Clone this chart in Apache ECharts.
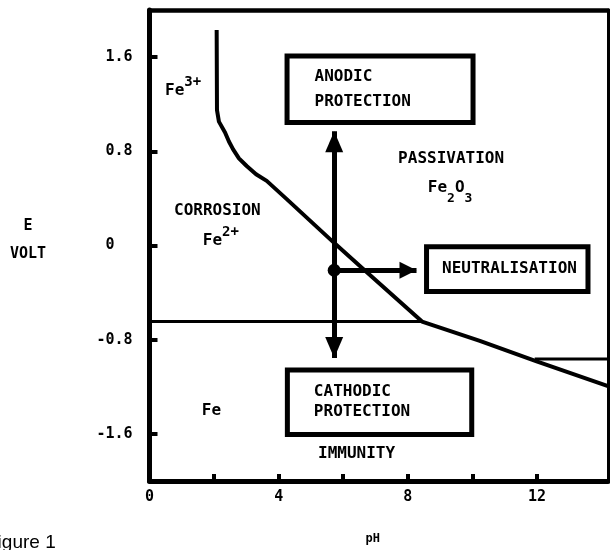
<!DOCTYPE html>
<html><head><meta charset="utf-8">
<script src="https://cdn.jsdelivr.net/npm/echarts@6/dist/echarts.min.js"></script>
<style>html,body{margin:0;padding:0;background:#fff}#c{width:610px;height:550px}</style>
</head><body><div id="c"></div>
<script>
// ---- data ----
const xTicks = [2, 4, 6, 8, 10, 12];
const xTickLabels = [0, 4, 8, 12];
const yTickLabels = [-1.6, -0.8, 0, 0.8, 1.6];

// Fe2O3 / Fe ions boundary
const curvePH = [2.08, 2.09, 2.15, 2.34, 2.46, 2.59, 2.77, 3.01, 3.30, 3.63, 4.25, 5.75, 6.61, 8.44, 10.23, 11.99, 14.2];
const curveE  = [1.83, 1.15, 1.052, 0.96, 0.883, 0.816, 0.74, 0.675, 0.605, 0.549, 0.394, 0.014, -0.197, -0.646, -0.81, -0.984, -1.195];
// Fe / Fe2+ line
const feLinePH = [0, 8.44];
const feLineE  = [-0.646, -0.646];
// short line at high pH
const hiLinePH = [11.93, 14.2];
const hiLineE  = [-0.964, -0.964];

// boxes
const boxNames = ['ANODIC\nPROTECTION', 'NEUTRALISATION', 'CATHODIC\nPROTECTION'];
const boxPH = [[4.26, 10.02], [8.58, 13.58], [4.27, 9.98]];
const boxE  = [[1.61, 1.044], [-0.011, -0.39], [-1.057, -1.606]];

// arrows
const arrowPH = 5.72;
const arrowTopE = 0.97;
const arrowBottomE = -0.955;
const neutralE = -0.21;
const neutralTipPH = 8.27;

// region labels
const regionTexts = ['{b|Fe}{sup|3+}', 'CORROSION', '{b|Fe}{sup|2+}', 'PASSIVATION', '{c|Fe}{sub|2}{c|O}{sub|3}', 'Fe', 'IMMUNITY'];
const regionPH = [0.48, 0.76, 1.65, 7.70, 8.62, 1.62, 5.22];
const regionE  = [1.348, 0.293, 0.076, 0.738, 0.443, -1.406, -1.772];

// ---- chart ----
const FONT = 'DejaVu Sans Mono';
const chart = echarts.init(document.getElementById('c'));
const zip = (a, b) => a.map((v, i) => [v, b[i]]);

const boxLabelDist = [30, 18, 29];
const boxLineHeight = [25, 20, 20];
const markAreaData = boxNames.map((n, i) => [
  { coord: [boxPH[i][0], boxE[i][0]], name: n,
    label: { distance: boxLabelDist[i], lineHeight: boxLineHeight[i] } },
  { coord: [boxPH[i][1], boxE[i][1]] }
]);

const richStyles = {
  b:   { fontFamily: FONT, fontWeight: 'bold', fontSize: 16, color: '#000', padding: [8, 0, 0, 0] },
  sup: { fontFamily: FONT, fontWeight: 'bold', fontSize: 14, color: '#000', padding: [0, 0, 8, 0] },
  c:   { fontFamily: FONT, fontWeight: 'bold', fontSize: 16, color: '#000', padding: [0, 0, 10, 0] },
  sub: { fontFamily: FONT, fontWeight: 'bold', fontSize: 13, color: '#000', padding: [10, 0, 0, 0] }
};

const option = {
  backgroundColor: '#fff',
  animation: false,
  grid: { left: 149.5, right: 2, top: 10, bottom: 65.5 },
  xAxis: [{
    type: 'value', min: 0, max: 14.2,
    name: 'pH', nameLocation: 'middle', nameGap: 52,
    nameTextStyle: { fontFamily: FONT, fontWeight: 'bold', fontSize: 12, color: '#000', padding: [0, 12, 0, 0] },
    axisLine: { onZero: false, lineStyle: { color: '#000', width: 5 } },
    axisTick: { inside: true, length: 7, customValues: xTicks, lineStyle: { color: '#000', width: 4 } },
    axisLabel: { customValues: xTickLabels, margin: 9, fontFamily: FONT, fontWeight: 'bold', fontSize: 15, color: '#000' },
    splitLine: { show: false }
  }, {
    type: 'value', min: 0, max: 1, position: 'top',
    axisLine: { show: true, onZero: false, lineStyle: { color: '#000', width: 4.5 } },
    axisTick: { show: false }, axisLabel: { show: false }, splitLine: { show: false }
  }],
  yAxis: [{
    type: 'value', min: -2, max: 2,
    name: '{n|E}\n{n|VOLT}\n{s| }', nameLocation: 'middle', nameRotate: 0, nameGap: 121.5,
    nameTextStyle: { align: 'center', verticalAlign: 'middle',
      rich: {
        n: { fontFamily: FONT, fontWeight: 'bold', fontSize: 15, color: '#000', lineHeight: 28, align: 'center' },
        s: { fontSize: 10, lineHeight: 10 }
      } },
    axisLine: { show: true, onZero: false, lineStyle: { color: '#000', width: 5 } },
    axisTick: { show: true, inside: true, length: 8, customValues: yTickLabels, lineStyle: { color: '#000', width: 4 } },
    axisLabel: { customValues: yTickLabels, margin: 17, fontFamily: FONT, fontWeight: 'bold', fontSize: 15, color: '#000',
      formatter: v => (Math.abs(v) < 1e-9 ? '0\u00a0\u00a0' : String(v)) },
    splitLine: { show: false }
  }, {
    type: 'value', min: 0, max: 1, position: 'right',
    axisLine: { show: true, onZero: false, lineStyle: { color: '#000', width: 3 } },
    axisTick: { show: false }, axisLabel: { show: false }, splitLine: { show: false }
  }],
  graphic: [{
    type: 'text', x: -14, y: 543,
    style: { text: 'Figure 1', fontFamily: 'Liberation Sans', fontSize: 19, fill: '#000', verticalAlign: 'middle' }
  }],
  series: [
    { type: 'line', name: 'boundary', data: zip(curvePH, curveE), showSymbol: false, symbol: 'none',
      lineStyle: { color: '#000', width: 4 }, z: 3, silent: true },
    { type: 'line', name: 'Fe line', data: zip(feLinePH, feLineE), symbol: 'none',
      lineStyle: { color: '#000', width: 3 }, z: 3, silent: true },
    { type: 'line', name: 'high pH line', data: zip(hiLinePH, hiLineE), symbol: 'none',
      lineStyle: { color: '#000', width: 3 }, z: 3, silent: true },
    { type: 'line', name: 'boxes', data: [], silent: true,
      markArea: {
        silent: true,
        itemStyle: { color: 'rgba(0,0,0,0)', borderColor: '#000', borderWidth: 5 },
        label: { show: true, position: 'insideLeft', fontFamily: FONT, fontWeight: 'bold', fontSize: 16, color: '#000' },
        data: markAreaData
      } },
    { type: 'line', name: 'arrows', data: [], silent: true,
      markLine: {
        silent: true, animation: false,
        label: { show: false },
        lineStyle: { color: '#000', width: 5, type: 'solid' },
        data: [
          [ { coord: [arrowPH, arrowTopE], symbol: 'triangle', symbolSize: [18, 21], symbolOffset: [0, '50%'] },
            { coord: [arrowPH, arrowBottomE], symbol: 'triangle', symbolSize: [18, 21], symbolOffset: [0, '50%'] } ],
          [ { coord: [arrowPH, neutralE], symbol: 'circle', symbolSize: 13 },
            { coord: [neutralTipPH, neutralE], symbol: 'triangle', symbolSize: [17, 17], symbolOffset: [0, '50%'] } ]
        ]
      } },
    { type: 'scatter', name: 'labels', symbolSize: 0, silent: true, z: 5,
      itemStyle: { opacity: 1 },
      data: regionTexts.map((t, i) => ({ value: [regionPH[i], regionE[i]], name: t })),
      label: { show: true, position: 'right', distance: 0, formatter: p => p.name,
        fontFamily: FONT, fontWeight: 'bold', fontSize: 16, color: '#000', opacity: 1, rich: richStyles } }
  ]
};
chart.setOption(option);
</script></body></html>
